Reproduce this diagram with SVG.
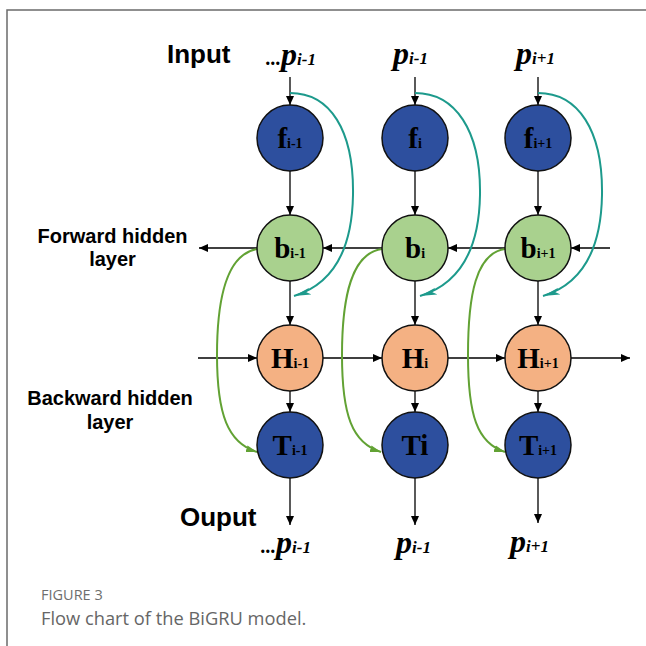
<svg xmlns="http://www.w3.org/2000/svg" width="646" height="646" viewBox="0 0 646 646">
<style>
.frame{fill:none;stroke:#6b6b6b;stroke-width:1.5}
.node circle{stroke:#111;stroke-width:1.5}
.f circle,.t circle{fill:#2d4f9e}
.b circle{fill:#a9d18e}
.h circle{fill:#f4b183}
.nl{font-family:"Liberation Serif","Times New Roman",serif;font-weight:bold;font-size:29px;fill:#000}
.sub{font-size:14px}
.lab{font-family:"Liberation Sans",Arial,sans-serif;font-weight:bold;fill:#000}
.pl{font-family:"Liberation Serif","Times New Roman",serif;font-weight:bold;font-style:italic;font-size:32px;fill:#000}
.ps{font-size:17px}
.dots{font-size:20px}
.ln{fill:none;stroke:#000;stroke-width:1.3}
.teal{fill:none;stroke:#1d9a8c;stroke-width:2}
.grn{fill:none;stroke:#62a234;stroke-width:2}
.cap1{font-family:"Open Sans","Noto Sans",sans-serif;font-size:14.5px;fill:#6e6e6e}
.cap2{font-family:"Open Sans","Noto Sans",sans-serif;font-size:18.3px;fill:#666}
</style>
<defs>
<marker id="ah" markerUnits="userSpaceOnUse" markerWidth="10" markerHeight="8" refX="9" refY="4" orient="auto">
<path d="M0,0 L9,4 L0,8 z" fill="#000"/>
</marker>
<marker id="aht" markerUnits="userSpaceOnUse" markerWidth="18" markerHeight="8" refX="17" refY="4" orient="auto">
<path d="M0,0.5 L17,4 L0,7.5 L4,4 z" fill="#1d9a8c"/>
</marker>
<marker id="ahg" markerUnits="userSpaceOnUse" markerWidth="12" markerHeight="8" refX="11" refY="4" orient="auto">
<path d="M0,0.5 L11,4 L0,7.5 z" fill="#62a234"/>
</marker>
</defs>
<rect width="646" height="646" fill="#fff"/>
<path class="frame" d="M7,646 V10 H646"/>

<g id="labels">
<text class="lab" x="167" y="63" font-size="26">Input</text>
<text class="lab" x="180" y="526" font-size="26">Ouput</text>
<text class="lab" x="112.5" y="243" font-size="20" text-anchor="middle">Forward hidden</text>
<text class="lab" x="112.5" y="266" font-size="20" text-anchor="middle">layer</text>
<text class="lab" x="110" y="405" font-size="20" text-anchor="middle">Backward hidden</text>
<text class="lab" x="110" y="429" font-size="20" text-anchor="middle">layer</text>
<text class="pl" x="266" y="65"><tspan class="dots">...</tspan>p<tspan class="ps">i-1</tspan></text>
<text class="pl" x="393" y="64">p<tspan class="ps">i-1</tspan></text>
<text class="pl" x="516" y="64">p<tspan class="ps">i+1</tspan></text>
<text class="pl" x="261" y="553"><tspan class="dots">...</tspan>p<tspan class="ps">i-1</tspan></text>
<text class="pl" x="396" y="553">p<tspan class="ps">i-1</tspan></text>
<text class="pl" x="510" y="552">p<tspan class="ps">i+1</tspan></text>
<text class="cap1" x="41" y="600">FIGURE 3</text>
<text class="cap2" x="41" y="625">Flow chart of the BiGRU model.</text>
</g>

<g id="connectors">
<line class="ln" x1="290" y1="77" x2="290" y2="105" marker-end="url(#ah)"/>
<line class="ln" x1="415" y1="77" x2="415" y2="105" marker-end="url(#ah)"/>
<line class="ln" x1="538" y1="77" x2="538" y2="105" marker-end="url(#ah)"/>
<line class="ln" x1="290" y1="171" x2="290" y2="215" marker-end="url(#ah)"/>
<line class="ln" x1="415" y1="171" x2="415" y2="215" marker-end="url(#ah)"/>
<line class="ln" x1="538" y1="171" x2="538" y2="215" marker-end="url(#ah)"/>
<line class="ln" x1="290" y1="281" x2="290" y2="325" marker-end="url(#ah)"/>
<line class="ln" x1="415" y1="281" x2="415" y2="325" marker-end="url(#ah)"/>
<line class="ln" x1="538" y1="281" x2="538" y2="325" marker-end="url(#ah)"/>
<line class="ln" x1="290" y1="391" x2="290" y2="412" marker-end="url(#ah)"/>
<line class="ln" x1="415" y1="391" x2="415" y2="412" marker-end="url(#ah)"/>
<line class="ln" x1="538" y1="391" x2="538" y2="412" marker-end="url(#ah)"/>
<line class="ln" x1="290" y1="478" x2="290" y2="525" marker-end="url(#ah)"/>
<line class="ln" x1="415" y1="478" x2="415" y2="525" marker-end="url(#ah)"/>
<line class="ln" x1="538" y1="478" x2="538" y2="523" marker-end="url(#ah)"/>
<line class="ln" x1="610" y1="248" x2="571" y2="248" marker-end="url(#ah)"/>
<line class="ln" x1="505" y1="248" x2="448" y2="248" marker-end="url(#ah)"/>
<line class="ln" x1="382" y1="248" x2="323" y2="248" marker-end="url(#ah)"/>
<line class="ln" x1="257" y1="248" x2="199" y2="248" marker-end="url(#ah)"/>
<line class="ln" x1="198" y1="358" x2="257" y2="358" marker-end="url(#ah)"/>
<line class="ln" x1="323" y1="358" x2="382" y2="358" marker-end="url(#ah)"/>
<line class="ln" x1="448" y1="358" x2="505" y2="358" marker-end="url(#ah)"/>
<line class="ln" x1="571" y1="358" x2="630" y2="358" marker-end="url(#ah)"/>
<path class="teal" d="M290,93 C330,93 354,130 353,195 C352,255 330,285 294,296" marker-end="url(#aht)"/>
<path class="teal" d="M415,93 C455,93 481,130 480,195 C479,255 456,285 420,296" marker-end="url(#aht)"/>
<path class="teal" d="M538,93 C578,93 603,130 602,195 C601,255 579,285 543,296" marker-end="url(#aht)"/>
<path class="grn" d="M258,249 C228,253 217,295 217,355 C217,415 228,443 257,452" marker-end="url(#ahg)"/>
<path class="grn" d="M382,249 C352,253 342,295 342,355 C342,415 352,443 381,452" marker-end="url(#ahg)"/>
<path class="grn" d="M505,249 C476,253 468,295 468,355 C468,415 477,443 505,452" marker-end="url(#ahg)"/>
</g>

<g id="f1" class="node f"><circle cx="290" cy="138" r="33"/><text class="nl" x="290" y="148" text-anchor="middle">f<tspan class="sub">i-1</tspan></text></g>
<g id="f2" class="node f"><circle cx="415" cy="138" r="33"/><text class="nl" x="415" y="148" text-anchor="middle">f<tspan class="sub">i</tspan></text></g>
<g id="f3" class="node f"><circle cx="538" cy="138" r="33"/><text class="nl" x="538" y="148" text-anchor="middle">f<tspan class="sub">i+1</tspan></text></g>
<g id="b1" class="node b"><circle cx="290" cy="248" r="33"/><text class="nl" x="290" y="258" text-anchor="middle">b<tspan class="sub">i-1</tspan></text></g>
<g id="b2" class="node b"><circle cx="415" cy="248" r="33"/><text class="nl" x="415" y="258" text-anchor="middle">b<tspan class="sub">i</tspan></text></g>
<g id="b3" class="node b"><circle cx="538" cy="248" r="33"/><text class="nl" x="538" y="258" text-anchor="middle">b<tspan class="sub">i+1</tspan></text></g>
<g id="h1" class="node h"><circle cx="290" cy="358" r="33"/><text class="nl" x="290" y="368" text-anchor="middle">H<tspan class="sub">i-1</tspan></text></g>
<g id="h2" class="node h"><circle cx="415" cy="358" r="33"/><text class="nl" x="415" y="368" text-anchor="middle">H<tspan class="sub">i</tspan></text></g>
<g id="h3" class="node h"><circle cx="538" cy="358" r="33"/><text class="nl" x="538" y="368" text-anchor="middle">H<tspan class="sub">i+1</tspan></text></g>
<g id="t1" class="node t"><circle cx="290" cy="445" r="33"/><text class="nl" x="290" y="455" text-anchor="middle">T<tspan class="sub">i-1</tspan></text></g>
<g id="t2" class="node t"><circle cx="415" cy="445" r="33"/><text class="nl" x="415" y="455" text-anchor="middle">Ti</text></g>
<g id="t3" class="node t"><circle cx="538" cy="445" r="33"/><text class="nl" x="538" y="455" text-anchor="middle">T<tspan class="sub">i+1</tspan></text></g>
</svg>
